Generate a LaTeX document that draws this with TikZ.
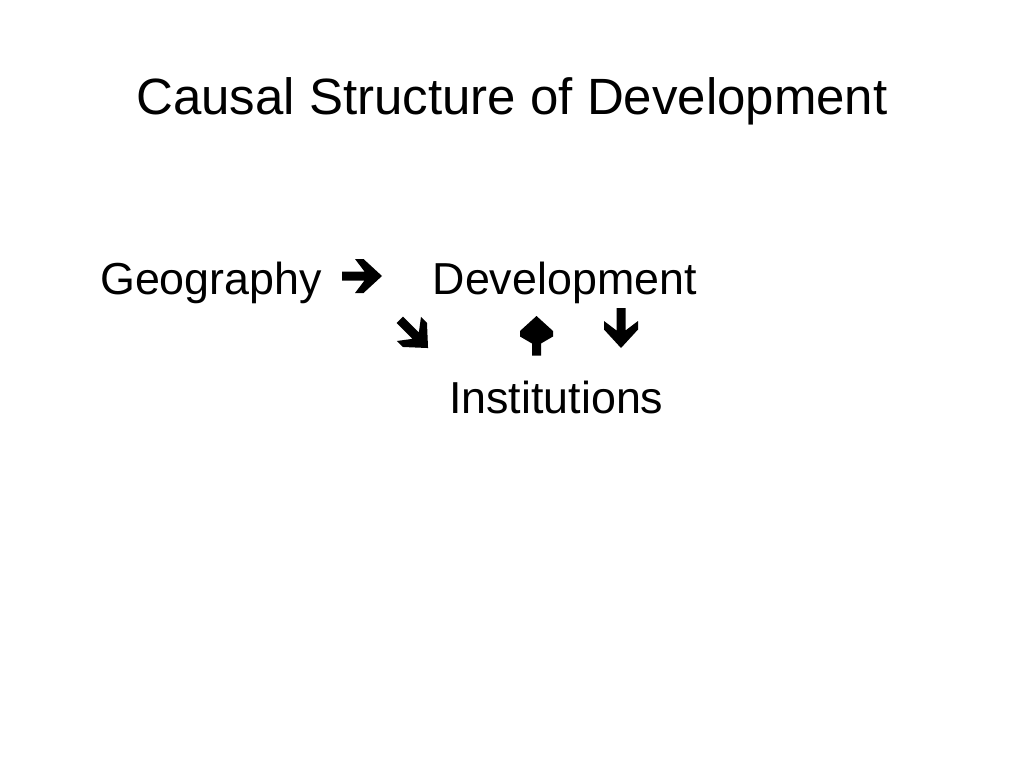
\documentclass[tikz,border=0pt]{standalone}
\usepackage{fontspec}
\setmainfont{Liberation Sans}
\usetikzlibrary{positioning}

\tikzset{
  titletext/.style={inner sep=0pt, anchor=base, font=\fontsize{51}{61}\selectfont},
  bodytext/.style={inner sep=0pt, anchor=base west, font=\fontsize{44.8}{54}\selectfont},
  blockarrow/.pic={
    \fill (-20,-4.5) -- (2.5,-4.5) -- (-7,-17) -- (1.5,-17) -- (20,0)
      -- (1.5,17) -- (-7,17) -- (2.5,4.5) -- (-20,4.5) -- cycle;
  },
  wingarrow/.pic={
    \fill (-19.5,-4.5) -- (-7.5,-4.5) -- (-0.5,-16.5) -- (5,-16.5) -- (20,0)
      -- (5,16.5) -- (-0.5,16.5) -- (-7.5,4.5) -- (-19.5,4.5) -- cycle;
  }
}

\begin{document}
\begin{tikzpicture}[x=1pt, y=-1pt]
  \useasboundingbox (0,0) rectangle (1024,768);
  \node[titletext] (title) at (512,114) {Causal Structure of Development};

  \node[bodytext] (geo) at (100,294) {Geography};
  \node[bodytext] (dev) at (432.5,294) {Development};
  \node[bodytext] (inst) at (449,413) {Institutions};

  % wingding style arrows between the words
  \pic at (362,276) {blockarrow};
  \pic[rotate=-45] at (413.9,333.9) {blockarrow};
  \pic[rotate=90] at (536.5,336) {wingarrow};
  \pic[rotate=-90] at (621,328) {blockarrow};
\end{tikzpicture}
\end{document}
